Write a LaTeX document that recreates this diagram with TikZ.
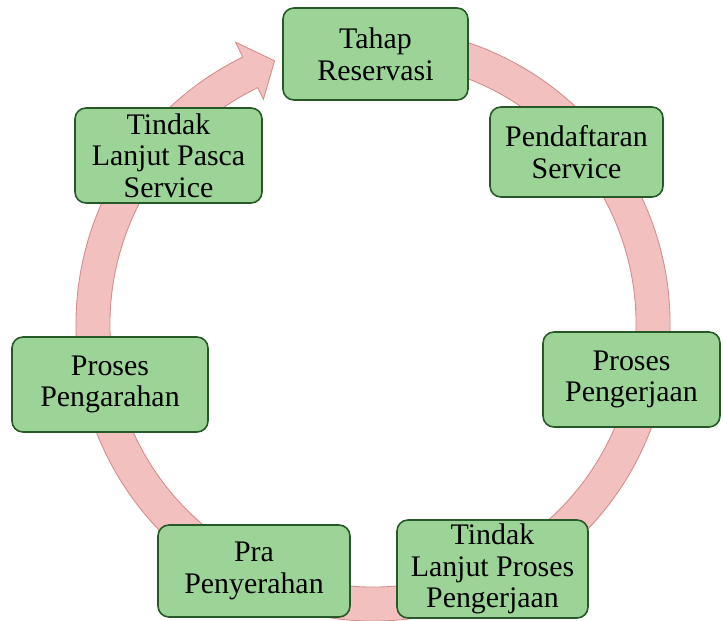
\documentclass[tikz,border=0pt]{standalone}
\usepackage{fontspec}
\setmainfont{Liberation Serif}
\definecolor{boxgreen}{RGB}{155,212,150}
\definecolor{boxline}{RGB}{38,88,40}
\definecolor{bandpink}{RGB}{243,192,192}
\definecolor{bandline}{RGB}{214,140,140}

\begin{document}
\begin{tikzpicture}[font=\fontsize{17}{18}\selectfont,
    stage/.style={draw=boxline, line width=0.9pt, fill=boxgreen, rounded corners=0.22cm, align=center, inner sep=2pt},
    band/.style={fill=bandpink, draw=bandline, line width=0.5pt}]

    \useasboundingbox (0,0) rectangle (14.46,12.4);

    % cycle arrow
    \begin{scope}[shift={(7.46,5.92)}]
    \path[band] (80:5.94) arc[start angle=80, end angle=-244, radius=5.94]
        -- (-244:6.27) -- (-249.5:5.62) -- (-244:5.0) -- (-244:5.26)
        arc[start angle=-244, end angle=80, radius=5.26] -- cycle;
    \end{scope}

    \node[stage, minimum width=3.7cm, minimum height=1.84cm] (reservasi) at (7.51,11.32) {Tahap\\Reservasi};
    \node[stage, minimum width=3.46cm, minimum height=1.8cm] (pendaftaran) at (11.53,9.36) {Pendaftaran\\Service};
    \node[stage, minimum width=3.54cm, minimum height=1.9cm] (pengerjaan) at (12.63,4.81) {Proses\\Pengerjaan};
    \node[stage, minimum width=3.82cm, minimum height=1.96cm] (tlproses) at (9.85,1.02) {Tindak\\Lanjut Proses\\Pengerjaan};
    \node[stage, minimum width=3.84cm, minimum height=1.84cm] (penyerahan) at (5.08,0.98) {Pra\\Penyerahan};
    \node[stage, minimum width=3.92cm, minimum height=1.9cm] (pengarahan) at (2.2,4.71) {Proses\\Pengarahan};
    \node[stage, minimum width=3.74cm, minimum height=1.9cm] (tlpasca) at (3.37,9.29) {Tindak\\Lanjut Pasca\\Service};
    %
\end{tikzpicture}
\end{document}
